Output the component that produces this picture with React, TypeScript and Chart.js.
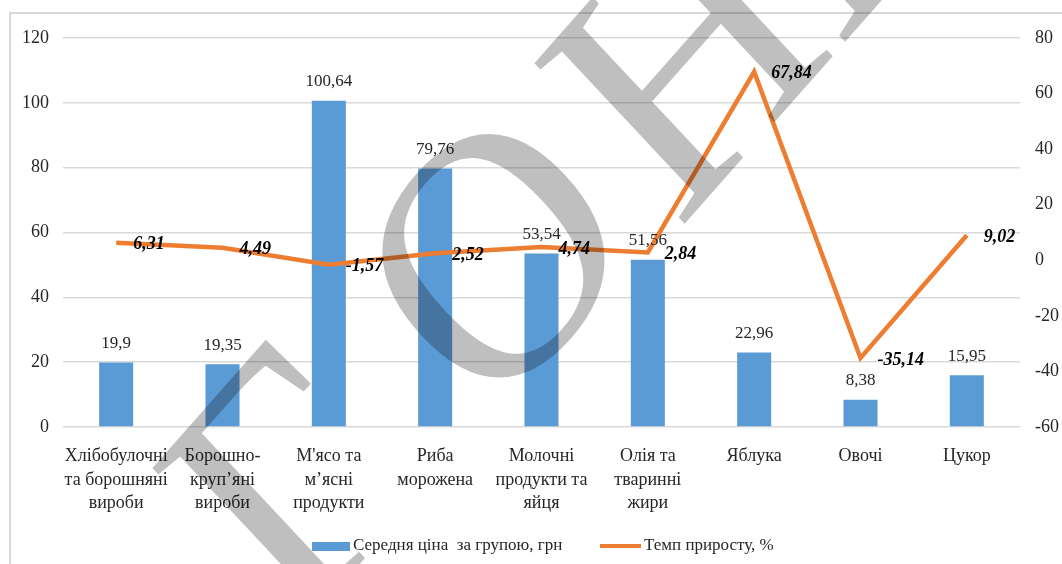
import React, { useEffect, useRef } from "react";
import { Chart, registerables } from "chart.js";

Chart.register(...registerables);

const categories: string[][] = [
  ["Хлібобулочні", "та борошняні", "вироби"],
  ["Борошно-", "круп’яні", "вироби"],
  ["М'ясо та", "м’ясні", "продукти"],
  ["Риба", "морожена"],
  ["Молочні", "продукти та", "яйця"],
  ["Олія та", "тваринні", "жири"],
  ["Яблука"],
  ["Овочі"],
  ["Цукор"],
];

const avgPrice: number[] = [19.9, 19.35, 100.64, 79.76, 53.54, 51.56, 22.96, 8.38, 15.95];
const growthRate: number[] = [6.31, 4.49, -1.57, 2.52, 4.74, 2.84, 67.84, -35.14, 9.02];

const seriesLabels: string[] = ["Середня ціна  за групою, грн", "Темп приросту, %"];
const watermarkText = "ГОНЕ";

const FONT = "'Liberation Serif', 'Times New Roman', serif";
const BLUE = "#5B9BD5";
const ORANGE = "#ED7D31";
const GRID = "#D9D9D9";
const TEXT = "#262626";

const fmt = (v: number) => String(v).replace(".", ",");

const framePlugin = {
  id: "frame",
  beforeDraw(chart: any) {
    const ctx = chart.ctx;
    ctx.save();
    ctx.fillStyle = "#ffffff";
    ctx.fillRect(0, 0, chart.width, chart.height);
    ctx.strokeStyle = GRID;
    ctx.lineWidth = 2;
    ctx.beginPath();
    ctx.moveTo(10, chart.height);
    ctx.lineTo(10, 13);
    ctx.lineTo(chart.width, 13);
    ctx.stroke();
    ctx.restore();
  },
};

const labelsPlugin = {
  id: "valueLabels",
  afterDatasetsDraw(chart: any) {
    const ctx = chart.ctx;
    ctx.save();
    const barMeta = chart.getDatasetMeta(0);
    ctx.fillStyle = TEXT;
    ctx.font = `17px ${FONT}`;
    ctx.textAlign = "center";
    ctx.textBaseline = "middle";
    barMeta.data.forEach((el: any, i: number) => {
      ctx.fillText(fmt(avgPrice[i]), el.x, el.y - 19);
    });
    const lineMeta = chart.getDatasetMeta(1);
    ctx.fillStyle = "#000000";
    ctx.font = `italic bold 18px ${FONT}`;
    ctx.textAlign = "left";
    lineMeta.data.forEach((el: any, i: number) => {
      ctx.fillText(fmt(growthRate[i]), el.x + 17, el.y + 2);
    });
    ctx.restore();
  },
};

const legendPlugin = {
  id: "customLegend",
  afterDraw(chart: any) {
    const ctx = chart.ctx;
    const y = 546;
    ctx.save();
    ctx.font = `17px ${FONT}`;
    ctx.textBaseline = "middle";
    ctx.textAlign = "left";
    ctx.fillStyle = BLUE;
    ctx.fillRect(312, y - 4, 38, 9);
    ctx.fillStyle = TEXT;
    ctx.fillText(seriesLabels[0], 353, y);
    ctx.strokeStyle = ORANGE;
    ctx.lineWidth = 4;
    ctx.beginPath();
    ctx.moveTo(600, y);
    ctx.lineTo(641, y);
    ctx.stroke();
    ctx.fillText(seriesLabels[1], 644, y);
    ctx.restore();
  },
};

// decorative watermark letters (centre of each glyph on the page)
const watermarkCentres: [number, number][] = [
  [285, 482],
  [493, 255],
  [683, 59],
  [831, -109],
];

const watermarkPlugin = {
  id: "watermark",
  afterDraw(chart: any) {
    const ctx = chart.ctx;
    const size = 320;
    ctx.save();
    ctx.font = `${size}px ${FONT}`;
    ctx.fillStyle = "rgba(0,0,0,0.25)";
    ctx.textBaseline = "alphabetic";
    ctx.textAlign = "center";
    watermarkText.split("").forEach((ch, i) => {
      const c = watermarkCentres[i];
      ctx.save();
      ctx.translate(c[0], c[1]);
      ctx.scale(1, 1.1);
      ctx.rotate(-0.8);
      ctx.fillText(ch, 0, size * 0.33);
      ctx.restore();
    });
    ctx.restore();
  },
};

export default function App() {
  const ref = useRef<HTMLCanvasElement | null>(null);
  useEffect(() => {
    let chart: Chart | null = null;
    let cancelled = false;
    const build = () => {
      if (cancelled || !ref.current) return;
      chart = new Chart(ref.current, {
        type: "bar",
        data: {
          labels: categories,
          datasets: [
            {
              type: "bar",
              label: seriesLabels[0],
              data: avgPrice,
              backgroundColor: BLUE,
              yAxisID: "y",
              order: 2,
              barPercentage: 0.32,
              categoryPercentage: 1,
            },
            {
              type: "line",
              label: seriesLabels[1],
              data: growthRate,
              borderColor: ORANGE,
              backgroundColor: ORANGE,
              borderWidth: 4.5,
              pointRadius: 0,
              tension: 0,
              yAxisID: "y1",
              order: 1,
            } as any,
          ],
        },
        options: {
          animation: false,
          responsive: true,
          maintainAspectRatio: false,
          layout: { padding: { left: 10, right: 0, top: 38, bottom: 0 } },
          plugins: {
            legend: { display: false },
            tooltip: { enabled: false },
          },
          scales: {
            x: {
              grid: { display: false },
              border: { display: false },
              ticks: {
                color: TEXT,
                font: { family: FONT, size: 18, lineHeight: 1.3 },
                padding: 10,
                maxRotation: 0,
                autoSkip: false,
              },
              afterFit(scale: any) {
                scale.height = 137;
              },
            },
            y: {
              position: "left",
              min: 0,
              max: 120,
              grid: { color: GRID, lineWidth: 1.5, drawTicks: false },
              border: { display: false },
              ticks: {
                stepSize: 20,
                color: TEXT,
                font: { family: FONT, size: 18 },
                padding: 14,
              },
              afterFit(scale: any) {
                scale.width = 53;
              },
            },
            y1: {
              position: "right",
              min: -60,
              max: 80,
              grid: { display: false, drawTicks: false },
              border: { display: false },
              ticks: {
                stepSize: 20,
                color: TEXT,
                font: { family: FONT, size: 18 },
                padding: 15,
              },
              afterFit(scale: any) {
                scale.width = 42;
              },
            },
          },
        },
        plugins: [framePlugin, labelsPlugin, legendPlugin, watermarkPlugin],
      });
    };
    const fonts: any = (document as any).fonts;
    if (fonts && fonts.load) {
      Promise.all([
        fonts.load(`17px ${FONT}`),
        fonts.load(`italic bold 17px ${FONT}`),
      ])
        .catch(() => undefined)
        .then(build);
    } else {
      build();
    }
    return () => {
      cancelled = true;
      if (chart) chart.destroy();
    };
  }, []);

  return (
    <div style={{ position: "absolute", left: 0, top: 0, width: 1062, height: 564 }}>
      <canvas ref={ref} />
    </div>
  );
}
